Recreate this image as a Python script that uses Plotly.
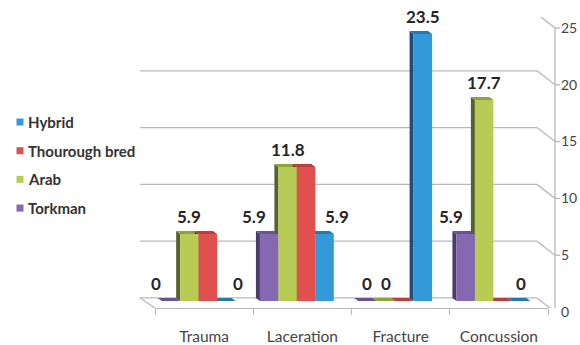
import plotly.graph_objects as go

# ---- data -------------------------------------------------------------
categories = ["Trauma", "Laceration", "Fracture", "Concussion"]
series_names = ["Torkman", "Arab", "Thourough bred", "Hybrid"]
torkman = [0, 5.9, 0, 5.9]
arab = [5.9, 11.8, 0, 17.7]
thourough_bred = [5.9, 11.8, 0, 0]
hybrid = [0, 5.9, 23.5, 0]
y_ticks = [0, 5, 10, 15, 20, 25]

series_values = [torkman, arab, thourough_bred, hybrid]
labelled = [True, True, False, True]   # bred series carries no value labels

# ---- style ------------------------------------------------------------
W, H = 580, 345
M_L, M_R, M_T, M_B = 155, 25, 17, 37
PLOT_W = W - M_L - M_R
PLOT_H = H - M_T - M_B
X_RANGE = [-0.5, 3.5]
X_DOMAIN_END = 0.9825
Y_RANGE = [-0.62, 25]
PX_X = PLOT_W * X_DOMAIN_END / (X_RANGE[1] - X_RANGE[0])
PX_Y = PLOT_H / (Y_RANGE[1] - Y_RANGE[0])

front = {"Torkman": "#8468B2", "Arab": "#B7CB55",
         "Thourough bred": "#E0504E", "Hybrid": "#3399D9"}
side = {"Torkman": "#4A3A6E", "Arab": "#55632A",
        "Thourough bred": "#8E2E2C", "Hybrid": "#1F4F78"}
top = {"Torkman": "#6A5296", "Arab": "#8FA23E",
       "Thourough bred": "#B83F3D", "Hybrid": "#2A77AE"}

GRID = "#B9B9B9"
FONT = "Lato"
BAR_W = 0.188
GROUP_SHIFT = -0.056
DEPTH_X = 4 / PX_X
DEPTH_Y = 3 / PX_Y


def paper_x(px):
    return (px - M_L) / PLOT_W


def paper_y(py):
    return 1 - (py - M_T) / PLOT_H


fig = go.Figure()
shapes = []
annotations = []

# back wall gridlines, their slanted joins to the value axis, axis ticks
for v in y_ticks:
    shapes.append(dict(type="line", xref="paper", yref="y", ysizemode="pixel",
                       yanchor=v, x0=paper_x(140), x1=paper_x(537), y0=3, y1=3,
                       line=dict(color=GRID, width=1.3), layer="below"))
    shapes.append(dict(type="line", xref="paper", yref="y", ysizemode="pixel",
                       yanchor=v, x0=paper_x(537), x1=1.0, y0=3, y1=-11,
                       line=dict(color=GRID, width=1.3), layer="below"))
    shapes.append(dict(type="line", xref="paper", yref="y", ysizemode="pixel",
                       yanchor=v, x0=1.0, x1=1.0 + 5 / PLOT_W, y0=-11, y1=-11,
                       line=dict(color=GRID, width=1.3), layer="below"))

# left edge of the floor
shapes.append(dict(type="line", xref="paper", yref="y", ysizemode="pixel",
                   yanchor=0, x0=paper_x(140), x1=0, y0=3, y1=-7,
                   line=dict(color=GRID, width=1.3), layer="below"))
# value axis line
shapes.append(dict(type="line", xref="paper", yref="y", x0=1.0, x1=1.0,
                   y0=y_ticks[0] - 11 / PX_Y, y1=y_ticks[-1] - 11 / PX_Y,
                   line=dict(color=GRID, width=1.3), layer="below"))

# bars: front faces as bar traces, side and top faces as shapes behind them
for k, (name, vals) in enumerate(zip(series_names, series_values)):
    xs = [i + GROUP_SHIFT + (k - 1.5) * BAR_W for i in range(len(categories))]
    fig.add_trace(go.Bar(
        x=xs, y=vals, width=BAR_W, name=name,
        marker=dict(color=front[name], line=dict(width=0)),
        hoverinfo="skip", showlegend=False))
    for xc, v in zip(xs, vals):
        x0, x1 = xc - BAR_W / 2, xc + BAR_W / 2
        shapes.append(dict(
            type="path", xref="x", yref="y", layer="below",
            path=f"M{x0},0 L{x0},{v} L{x0 - DEPTH_X},{v + DEPTH_Y} "
                 f"L{x0 - DEPTH_X},{DEPTH_Y} Z",
            fillcolor=side[name], line=dict(width=0)))
        shapes.append(dict(
            type="path", xref="x", yref="y", layer="below",
            path=f"M{x0},{v} L{x1},{v} L{x1 - DEPTH_X},{v + DEPTH_Y} "
                 f"L{x0 - DEPTH_X},{v + DEPTH_Y} Z",
            fillcolor=top[name], line=dict(width=0)))

# value labels, nudged away from a taller neighbouring bar
for k, (name, vals) in enumerate(zip(series_names, series_values)):
    if not labelled[k]:
        continue
    for i, v in enumerate(vals):
        xc = i + GROUP_SHIFT + (k - 1.5) * BAR_W
        shift = 0
        if k + 1 < len(series_values) and series_values[k + 1][i] > v + 3:
            shift -= 15
        if k - 1 >= 0 and series_values[k - 1][i] > v + 3:
            shift += 12
        annotations.append(dict(
            x=xc, y=v, xref="x", yref="y", text=f"{v:g}", showarrow=False,
            yanchor="bottom", yshift=5, xshift=shift,
            font=dict(family=FONT, size=17, color="#262626", weight="bold")))

# legend, listed top to bottom from the last series to the first
for j, name in enumerate(reversed(series_names)):
    cy = 122 + j * 28.7
    shapes.append(dict(type="rect", xref="paper", yref="paper",
                       x0=paper_x(16.5), x1=paper_x(23.5),
                       y0=paper_y(cy + 3.5), y1=paper_y(cy - 3.5),
                       fillcolor=front[name], line=dict(width=0)))
    annotations.append(dict(
        x=paper_x(26), y=paper_y(cy), xref="paper", yref="paper",
        text=name, showarrow=False, xanchor="left", yanchor="middle",
        font=dict(family=FONT, size=15, color="#333333", weight="bold")))

fig.update_layout(
    width=W, height=H,
    margin=dict(l=M_L, r=M_R, t=M_T, b=M_B),
    paper_bgcolor="white", plot_bgcolor="white",
    barmode="overlay",
    showlegend=False,
    shapes=shapes, annotations=annotations,
    xaxis=dict(
        range=X_RANGE, domain=[0, X_DOMAIN_END], automargin=False,
        tickvals=list(range(len(categories))), ticktext=categories,
        showgrid=False, zeroline=False,
        showline=True, linecolor=GRID, linewidth=1.3,
        ticks="", ticklabelstandoff=14,
        minor=dict(tickvals=[i - 0.5 for i in range(len(categories) + 1)],
                   ticks="outside", ticklen=6, tickcolor=GRID, tickwidth=1.3,
                   showgrid=False),
        tickfont=dict(family=FONT, size=15.5, color="#454545")),
    yaxis=dict(
        range=Y_RANGE, side="right", anchor="free", position=1.0,
        automargin=False,
        tickvals=y_ticks, showgrid=False, zeroline=False, showline=False,
        ticks="", ticklabelshift=11, ticklabelstandoff=5,
        tickfont=dict(family=FONT, size=14, color="#454545")),
)

fig.write_html("out.html")
